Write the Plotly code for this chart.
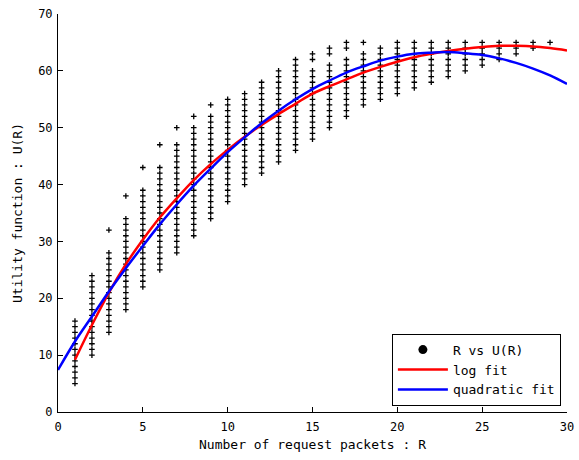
import plotly.graph_objects as go

# ---- data ----
R_cols = list(range(1, 30))
u_low = [5, 10, 14, 18, 22, 25, 28, 31, 34, 37, 40, 42, 44, 46, 48, 50, 52, 54, 55, 56,
         57, 58, 59, 60, 61, 62, 63, 64, 65]
u_high = [16, 24, 28, 34, 39, 43, 47, 50, 52, 55, 56, 58, 60, 62, 60, 61, 62, 63, 64, 65,
          65, 65, 65, 65, 65, 65, 65, 65, 65]
u_extra = [[], [], [32], [38], [43], [47], [50], [52], [54], [], [], [], [], [],
           [62, 63], [63, 64], [64, 65], [65], [], [], [], [], [], [], [], [], [], [], []]

log_R = list(range(1, 31))
log_fit = [9.2, 15.3, 21.0, 26.0, 30.3, 34.2, 37.6, 40.8, 43.6, 46.1,
           48.4, 50.5, 52.4, 54.2, 56.0, 57.3, 58.5, 59.7, 60.7, 61.6,
           62.4, 63.0, 63.5, 63.9, 64.2, 64.4, 64.4, 64.3, 64.0, 63.6]

quad_R = list(range(0, 31))
quad_fit = [7.4, 12.4, 16.8, 21.2, 25.3, 29.2, 33.0, 36.5, 39.8, 42.8, 45.7,
            48.3, 50.8, 53.0, 55.0, 56.8, 58.3, 59.7, 60.8, 61.8, 62.5,
            63.0, 63.2, 63.3, 63.1, 62.8, 62.2, 61.4, 60.4, 59.2, 57.7]

x_ticks = [0, 5, 10, 15, 20, 25, 30]
y_ticks = [0, 10, 20, 30, 40, 50, 60, 70]

# ---- expand scatter columns ----
px, py = [], []
for r, lo, hi, ex in zip(R_cols, u_low, u_high, u_extra):
    for u in list(range(lo, hi + 1)) + ex:
        px.append(r)
        py.append(u)

FONT = "DejaVu Sans Mono"

fig = go.Figure()
fig.add_trace(go.Scatter(x=px, y=py, mode="markers", showlegend=False,
                         marker=dict(symbol="cross-thin", size=4, color="black",
                                     line=dict(width=1.3, color="black"))))
fig.add_trace(go.Scatter(x=[None], y=[None], mode="markers", name="R vs U(R)",
                         marker=dict(symbol="circle", size=9, color="black")))
fig.add_trace(go.Scatter(x=log_R, y=log_fit, mode="lines", name="log fit",
                         line=dict(color="#ff0000", width=2.5, shape="spline")))
fig.add_trace(go.Scatter(x=quad_R, y=quad_fit, mode="lines", name="quadratic fit",
                         line=dict(color="#0000ff", width=2.5, shape="spline")))

axis_common = dict(showgrid=False, zeroline=False, showline=True, linecolor="black",
                   linewidth=1, ticks="inside", ticklen=5, tickcolor="black",
                   tickfont=dict(family=FONT, size=12, color="black"), mirror=False,
                   automargin=False)

fig.update_layout(
    width=579, height=460,
    margin=dict(l=58, r=12, t=14, b=48),
    paper_bgcolor="white", plot_bgcolor="white",
    font=dict(family=FONT, size=12, color="black"),
    xaxis=dict(range=[0, 30], tickvals=x_ticks, ticklabelstandoff=4,
               title=dict(text="Number of request packets : R",
                          font=dict(family=FONT, size=13), standoff=6),
               **axis_common),
    yaxis=dict(range=[0, 70], tickvals=y_ticks, ticklabelstandoff=2,
               title=dict(text="Utility function : U(R)",
                          font=dict(family=FONT, size=13), standoff=12),
               **axis_common),
    legend=dict(x=0.988, y=0.016, xanchor="right", yanchor="bottom",
                bgcolor="white", bordercolor="black", borderwidth=1,
                font=dict(family=FONT, size=13), tracegroupgap=0,
                itemsizing="trace", itemwidth=50),
)

fig.write_html("out.html")
